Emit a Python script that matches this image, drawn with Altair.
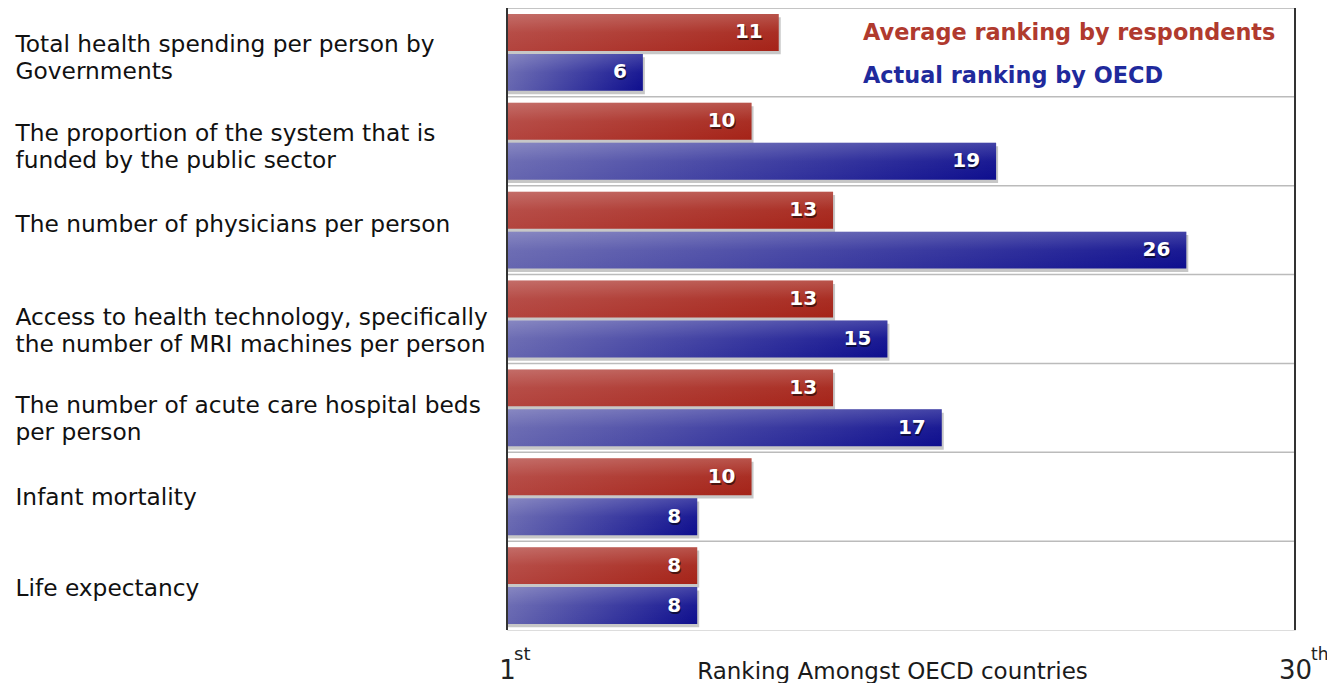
import altair as alt
import pandas as pd

# ---- data ----
categories = [
    "Total health spending per person by|Governments",
    "The proportion of the system that is|funded by the public sector",
    "The number of physicians per person",
    "Access to health technology, specifically|the number of MRI machines per person",
    "The number of acute care hospital beds|per person",
    "Infant mortality",
    "Life expectancy",
]
respondents = [11, 10, 13, 13, 13, 10, 8]
oecd = [6, 19, 26, 15, 17, 8, 8]
series_names = ["Average ranking by respondents", "Actual ranking by OECD"]
series_colors = ["#b03a2e", "#1f2a9c"]
axis_ends = [1, 30]
axis_suffix = ["st", "th"]
axis_title = "Ranking Amongst OECD countries"

rows = []
for c, r, o in zip(categories, respondents, oecd):
    rows.append({"cat": c, "series": series_names[0], "value": r, "base": axis_ends[0]})
    rows.append({"cat": c, "series": series_names[1], "value": o, "base": axis_ends[0]})
df = pd.DataFrame(rows)
df_cat = pd.DataFrame({"cat": categories})
df_sup = pd.DataFrame({"pos": axis_ends, "suffix": axis_suffix})
df_leg = pd.DataFrame({"series": series_names, "color": series_colors})

W, H = 788, 622
FONT = "DejaVu Sans"

xscale = alt.Scale(domain=axis_ends, nice=False, zero=False)
yscale = alt.Scale(domain=categories, paddingInner=0, paddingOuter=0)
yoff_scale = alt.Scale(domain=series_names, paddingInner=0.075, paddingOuter=0.15)
yoff_shadow = alt.Scale(domain=series_names, paddingInner=0.075, paddingOuter=0.15, align=0.78)

x_axis = alt.Axis(
    values=axis_ends, title=axis_title, grid=False, ticks=False, tickSize=0, domain=False,
    labelFontSize=26, labelFont=FONT, labelColor="#222222", labelBaseline="alphabetic",
    labelPadding=48, labelFlush=False, labelOverlap=False,
    titleFont=FONT, titleFontSize=23, titleFontWeight="normal", titleColor="#1a1a1a",
    titleX=385, titleY=48, titleBaseline="alphabetic", titleAlign="center",
)

label_offsets = {
    "condition": [
        {"test": "indexof(datum.value, 'Total health') >= 0 || indexof(datum.value, 'The proportion') >= 0", "value": -7},
        {"test": "indexof(datum.value, 'physicians') >= 0", "value": -5},
        {"test": "indexof(datum.value, 'Access') >= 0 || indexof(datum.value, 'acute') >= 0", "value": -1.5},
        {"test": "indexof(datum.value, 'Infant') >= 0", "value": 1},
    ],
    "value": 3,
}

y_axis = alt.Axis(
    title=None, labelExpr="split(datum.label, '|')", labelAlign="left", labelPadding=492,
    ticks=False, tickSize=0, domain=False, grid=False, labelFontSize=23.3, labelFont=FONT,
    labelColor="#111111", labelLineHeight=27, labelBaseline="middle", labelLimit=0,
    labelOffset=label_offsets,
)

X = alt.X("value:Q", scale=xscale, axis=x_axis)
Y = alt.Y("cat:N", sort=categories, scale=yscale, axis=y_axis)
YO = alt.YOffset("series:N", sort=series_names, scale=yoff_scale)
YO_SH = alt.YOffset("series:N", sort=series_names, scale=yoff_shadow)


def grad(c0, c1):
    return alt.LinearGradient(
        gradient="linear",
        stops=[alt.GradientStop(color=c0, offset=0), alt.GradientStop(color=c1, offset=1)],
        x1=0, x2=1, y1=0, y2=0,
    )


gloss = alt.LinearGradient(
    gradient="linear",
    stops=[
        alt.GradientStop(color="rgba(255,255,255,0.22)", offset=0),
        alt.GradientStop(color="rgba(255,255,255,0.05)", offset=0.5),
        alt.GradientStop(color="rgba(255,255,255,0)", offset=1),
    ],
    x1=0, x2=0, y1=0, y2=1,
)

base = alt.Chart(df)

grid = alt.Chart(df_cat).mark_rule(color="#bbbbbb", strokeWidth=1.5).encode(
    y=alt.Y("cat:N", sort=categories, scale=yscale, axis=y_axis, bandPosition=0)
)

shadow = base.mark_bar(color="#000000", opacity=0.22, xOffset=2).encode(
    x=X, x2="base:Q", y=Y, yOffset=YO_SH
)

red = base.transform_filter(alt.datum.series == series_names[0]).mark_bar(
    color=grad("#b3443e", "#a52318")
).encode(x=X, x2="base:Q", y=Y, yOffset=YO)

blue = base.transform_filter(alt.datum.series == series_names[1]).mark_bar(
    color=grad("#6666b0", "#0e0e8e")
).encode(x=X, x2="base:Q", y=Y, yOffset=YO)

shine = base.mark_bar(color=gloss).encode(x=X, x2="base:Q", y=Y, yOffset=YO)

txt_shadow = base.mark_text(
    align="right", baseline="middle", dx=-15, dy=2, font=FONT, fontSize=20,
    fontWeight="bold", color="#000000", opacity=0.55,
).encode(x=X, y=Y, yOffset=YO, text="value:Q")

txt = base.mark_text(
    align="right", baseline="middle", dx=-16, font=FONT, fontSize=20,
    fontWeight="bold", color="#ffffff",
).encode(x=X, y=Y, yOffset=YO, text="value:Q")

frame = alt.Chart(df_sup).mark_rule(color="#333333", strokeWidth=2).encode(
    x=alt.X("pos:Q", scale=xscale, axis=x_axis)
)

sup_st = alt.Chart(df_sup).transform_filter(alt.datum.pos == axis_ends[0]).mark_text(
    align="left", baseline="alphabetic", dx=7, font=FONT, fontSize=18, color="#222222"
).encode(x=alt.X("pos:Q", scale=xscale, axis=x_axis), y=alt.value(H + 30), text="suffix:N")

sup_th = alt.Chart(df_sup).transform_filter(alt.datum.pos == axis_ends[1]).mark_text(
    align="left", baseline="alphabetic", dx=16, font=FONT, fontSize=17, color="#222222"
).encode(x=alt.X("pos:Q", scale=xscale, axis=x_axis), y=alt.value(H + 30), text="suffix:N")

leg1 = alt.Chart(df_leg).transform_filter(alt.datum.series == series_names[0]).mark_text(
    align="left", baseline="alphabetic", font=FONT, fontSize=22.4, fontWeight="bold",
    color=series_colors[0],
).encode(x=alt.value(356), y=alt.value(32), text="series:N")

leg2 = alt.Chart(df_leg).transform_filter(alt.datum.series == series_names[1]).mark_text(
    align="left", baseline="alphabetic", font=FONT, fontSize=22.4, fontWeight="bold",
    color=series_colors[1],
).encode(x=alt.value(356), y=alt.value(75), text="series:N")

main = alt.layer(
    grid, red, blue, shine, txt_shadow, txt, frame, sup_st, sup_th, leg1, leg2
)

chart = alt.layer(shadow, main).resolve_scale(
    yOffset="independent"
).properties(
    width=W, height=H,
    padding={"left": 499, "top": 0, "right": 32, "bottom": 53},
    autosize=alt.AutoSizeParams(type="none"),
).configure_view(
    stroke="#b5b5b5", strokeWidth=1.5
).configure(background="white")

chart.save("out.html", embed_options={"renderer": "svg", "actions": False})
